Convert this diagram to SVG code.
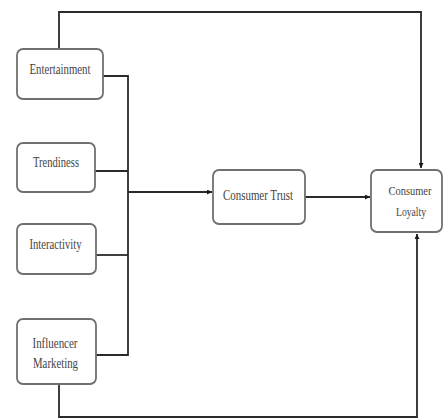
<svg xmlns="http://www.w3.org/2000/svg" width="444" height="419" viewBox="0 0 444 419">
<style>
.box{fill:#fff;stroke:#707070;stroke-width:1.8}
.lbl{font-family:"Liberation Serif","Times New Roman",serif;font-size:14px;fill:#444;text-anchor:middle}
.sm{font-size:13px}
.ln{fill:none;stroke:#2a2a2a;stroke-width:1.8}
</style>
<defs>
<marker id="ah" viewBox="0 0 6 6" refX="6" refY="3" markerWidth="5" markerHeight="5" markerUnits="userSpaceOnUse" orient="auto">
<path d="M0,0 L6,3 L0,6 Z" fill="#1a1a1a"/>
</marker>
</defs>
<rect width="444" height="419" fill="#fff"/>
<g id="connectors">
<path class="ln" d="M59,49 V12 H421 V168" marker-end="url(#ah)"/>
<path class="ln" d="M59,384 V417 H417 V234" marker-end="url(#ah)"/>
<path class="ln" d="M103,76 H128 V355 H96"/>
<path class="ln" d="M95,171 H128"/>
<path class="ln" d="M96,255 H128"/>
<path class="ln" d="M128,192 H212" marker-end="url(#ah)"/>
<path class="ln" d="M305,197 H370" marker-end="url(#ah)"/>
</g>
<g id="entertainment">
<rect class="box" x="17" y="49" width="86" height="50" rx="6"/>
<text class="lbl" x="60" y="74" textLength="61" lengthAdjust="spacingAndGlyphs">Entertainment</text>
</g>
<g id="trendiness">
<rect class="box" x="17" y="143" width="78" height="49" rx="6"/>
<text class="lbl" x="56" y="167" textLength="46" lengthAdjust="spacingAndGlyphs">Trendiness</text>
</g>
<g id="interactivity">
<rect class="box" x="17" y="224" width="79" height="50" rx="6"/>
<text class="lbl" x="55.5" y="249" textLength="52" lengthAdjust="spacingAndGlyphs">Interactivity</text>
</g>
<g id="influencer-marketing">
<rect class="box" x="17" y="319" width="79" height="65" rx="6"/>
<text class="lbl" x="55" y="348" textLength="45" lengthAdjust="spacingAndGlyphs">Influencer</text>
<text class="lbl" x="55.5" y="368" textLength="45" lengthAdjust="spacingAndGlyphs">Marketing</text>
</g>
<g id="consumer-trust">
<rect class="box" x="213" y="170" width="92" height="54" rx="6"/>
<text class="lbl" x="258" y="200" textLength="70" lengthAdjust="spacingAndGlyphs">Consumer Trust</text>
</g>
<g id="consumer-loyalty">
<rect class="box" x="371" y="170" width="71" height="62" rx="6"/>
<text class="lbl sm" x="410" y="195" textLength="43" lengthAdjust="spacingAndGlyphs">Consumer</text>
<text class="lbl sm" x="411" y="216" textLength="30" lengthAdjust="spacingAndGlyphs">Loyalty</text>
</g>
</svg>
